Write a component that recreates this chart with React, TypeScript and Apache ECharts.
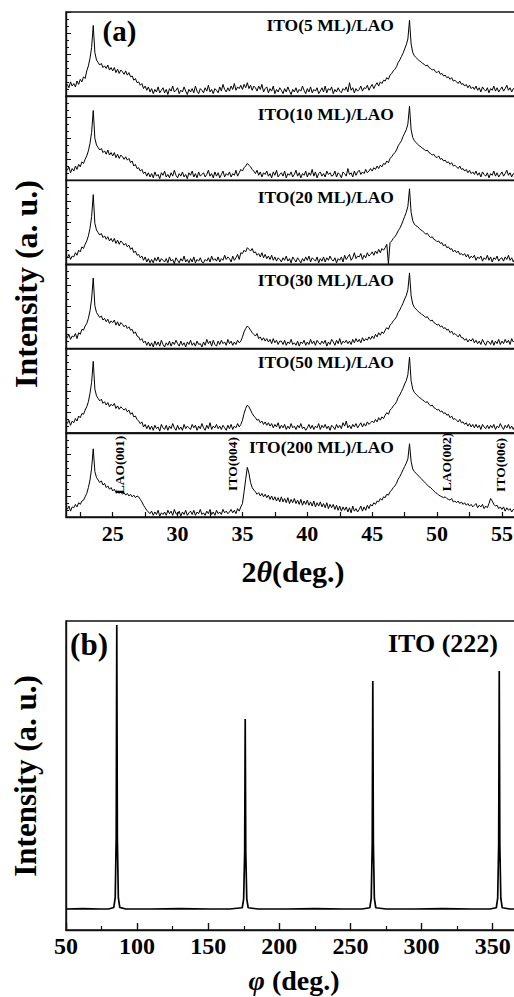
import React, { useEffect, useRef } from 'react';
import * as echarts from 'echarts';

// ---------- Panel (a): 2θ scans (values in % of each strip height) ----------
const TWO_THETA = [
  21.5, 21.625, 21.75, 21.875,
  22, 22.125, 22.25, 22.375, 22.5, 22.625, 22.75, 22.875,
  23, 23.125, 23.25, 23.375, 23.5, 23.625, 23.75, 23.875,
  24, 24.125, 24.25, 24.375, 24.5, 24.625, 24.75, 24.875,
  25, 25.125, 25.25, 25.375, 25.5, 25.625, 25.75, 25.875,
  26, 26.125, 26.25, 26.375, 26.5, 26.625, 26.75, 26.875,
  27, 27.125, 27.25, 27.375, 27.5, 27.625, 27.75, 27.875,
  28, 28.125, 28.25, 28.375, 28.5, 28.625, 28.75, 28.875,
  29, 29.125, 29.25, 29.375, 29.5, 29.625, 29.75, 29.875,
  30, 30.125, 30.25, 30.375, 30.5, 30.625, 30.75, 30.875,
  31, 31.125, 31.25, 31.375, 31.5, 31.625, 31.75, 31.875,
  32, 32.125, 32.25, 32.375, 32.5, 32.625, 32.75, 32.875,
  33, 33.125, 33.25, 33.375, 33.5, 33.625, 33.75, 33.875,
  34, 34.125, 34.25, 34.375, 34.5, 34.625, 34.75, 34.875,
  35, 35.125, 35.25, 35.375, 35.5, 35.625, 35.75, 35.875,
  36, 36.125, 36.25, 36.375, 36.5, 36.625, 36.75, 36.875,
  37, 37.125, 37.25, 37.375, 37.5, 37.625, 37.75, 37.875,
  38, 38.125, 38.25, 38.375, 38.5, 38.625, 38.75, 38.875,
  39, 39.125, 39.25, 39.375, 39.5, 39.625, 39.75, 39.875,
  40, 40.125, 40.25, 40.375, 40.5, 40.625, 40.75, 40.875,
  41, 41.125, 41.25, 41.375, 41.5, 41.625, 41.75, 41.875,
  42, 42.125, 42.25, 42.375, 42.5, 42.625, 42.75, 42.875,
  43, 43.125, 43.25, 43.375, 43.5, 43.625, 43.75, 43.875,
  44, 44.125, 44.25, 44.375, 44.5, 44.625, 44.75, 44.875,
  45, 45.125, 45.25, 45.375, 45.5, 45.625, 45.75, 45.875,
  46, 46.125, 46.25, 46.375, 46.5, 46.625, 46.75, 46.875,
  47, 47.125, 47.25, 47.375, 47.5, 47.625, 47.75, 47.875,
  48, 48.125, 48.25, 48.375, 48.5, 48.625, 48.75, 48.875,
  49, 49.125, 49.25, 49.375, 49.5, 49.625, 49.75, 49.875,
  50, 50.125, 50.25, 50.375, 50.5, 50.625, 50.75, 50.875,
  51, 51.125, 51.25, 51.375, 51.5, 51.625, 51.75, 51.875,
  52, 52.125, 52.25, 52.375, 52.5, 52.625, 52.75, 52.875,
  53, 53.125, 53.25, 53.375, 53.5, 53.625, 53.75, 53.875,
  54, 54.125, 54.25, 54.375, 54.5, 54.625, 54.75, 54.875,
  55, 55.125, 55.25, 55.375, 55.5, 55.625, 55.75, 55.875,
  56,
];

const ITO_5ML = [
  14, 10, 17, 12,
  15, 11, 18, 14, 20, 17, 23, 21,
  30, 36, 45, 58, 84, 52, 43, 40,
  37, 39, 34, 36, 33, 37, 31, 34,
  30, 34, 28, 32, 27, 31, 29, 26,
  30, 25, 28, 23, 24, 19, 21, 16,
  17, 13, 15, 9, 12, 7, 11, 5,
  9, 3, 8, 5, 11, 4, 7, 10,
  4, 8, 2, 9, 6, 12, 5, 7,
  10, 3, 7, 5, 11, 6, 2, 8,
  5, 9, 4, 12, 6, 3, 9, 7,
  4, 10, 6, 13, 5, 8, 3, 9,
  7, 4, 11, 6, 14, 8, 5, 10,
  6, 12, 8, 15, 7, 11, 9, 13,
  8, 14, 10, 16, 9, 13, 7, 12,
  10, 6, 12, 8, 14, 5, 9, 11,
  4, 9, 6, 12, 3, 8, 5, 10,
  7, 3, 9, 5, 11, 6, 2, 8,
  5, 10, 4, 8, 6, 12, 7, 3,
  9, 5, 11, 4, 8, 6, 10, 3,
  6, 10, 5, 12, 4, 9, 7, 11,
  3, 8, 5, 10, 6, 4, 9, 7,
  11, 5, 16, 7, 10, 4, 9, 6,
  8, 12, 6, 10, 9, 13, 7, 11,
  14, 9, 13, 16, 12, 17, 15, 19,
  18, 22, 20, 25, 27, 30, 32, 35,
  40, 43, 47, 51, 56, 61, 68, 90,
  62, 52, 48, 46, 44, 42, 41, 39,
  38, 36, 37, 34, 33, 31, 32, 29,
  28, 30, 26, 27, 24, 25, 22, 23,
  20, 22, 18, 19, 17, 15, 18, 14,
  15, 12, 14, 10, 13, 9, 11, 8,
  12, 7, 10, 5, 11, 8, 6, 10,
  4, 9, 7, 12, 6, 10, 5, 8,
  11, 6, 9, 13, 7, 10, 5, 9,
  8,
];

const ITO_10ML = [
  12, 16, 9, 14,
  11, 17, 13, 19, 16, 22, 20, 25,
  29, 35, 44, 57, 83, 50, 42, 39,
  36, 38, 33, 35, 31, 36, 30, 33,
  29, 33, 27, 31, 26, 30, 28, 25,
  28, 24, 26, 21, 23, 17, 19, 14,
  15, 11, 13, 8, 10, 5, 9, 4,
  8, 3, 10, 5, 7, 2, 9, 6,
  11, 4, 7, 3, 9, 5, 12, 6,
  3, 8, 5, 10, 4, 7, 2, 9,
  6, 11, 4, 8, 3, 10, 5, 7,
  9, 4, 7, 12, 5, 8, 3, 10,
  5, 9, 3, 7, 11, 4, 8, 6,
  10, 4, 8, 6, 12, 5, 9, 13,
  11, 15, 17, 20, 18, 16, 13, 11,
  8, 12, 6, 10, 4, 9, 7, 11,
  5, 8, 3, 10, 6, 12, 4, 7,
  9, 5, 11, 3, 8, 6, 10, 4,
  7, 12, 5, 9, 3, 8, 6, 11,
  4, 9, 6, 13, 5, 10, 3, 8,
  10, 5, 8, 4, 11, 7, 9, 5,
  6, 11, 4, 9, 7, 3, 10, 8,
  5, 14, 7, 9, 4, 11, 6, 10,
  12, 7, 10, 8, 13, 9, 11, 14,
  11, 15, 13, 17, 14, 18, 16, 20,
  19, 23, 21, 26, 28, 31, 33, 36,
  41, 44, 47, 52, 56, 60, 67, 88,
  60, 51, 47, 45, 43, 41, 40, 38,
  37, 35, 36, 33, 32, 30, 31, 28,
  27, 29, 25, 26, 23, 24, 21, 22,
  19, 21, 17, 18, 16, 14, 17, 13,
  14, 11, 13, 9, 12, 8, 10, 7,
  11, 6, 9, 4, 10, 7, 5, 9,
  3, 8, 6, 11, 5, 9, 4, 7,
  10, 5, 8, 12, 6, 9, 4, 8,
  7,
];

const ITO_20ML = [
  8, 12, 6, 10,
  9, 14, 11, 17, 15, 21, 19, 24,
  28, 34, 43, 57, 83, 49, 41, 38,
  35, 37, 32, 34, 30, 33, 28, 31,
  27, 31, 25, 29, 24, 28, 26, 23,
  25, 21, 23, 18, 20, 14, 16, 11,
  12, 8, 10, 5, 9, 3, 7, 2,
  6, 2, 8, 4, 9, 3, 7, 5,
  3, 7, 2, 9, 4, 6, 1, 8,
  5, 2, 7, 4, 10, 3, 6, 2,
  7, 3, 9, 2, 6, 4, 8, 3,
  2, 6, 4, 8, 3, 10, 5, 7,
  4, 9, 3, 7, 5, 11, 6, 9,
  7, 3, 10, 5, 8, 12, 6, 14,
  13, 17, 15, 20, 18, 16, 19, 14,
  15, 11, 13, 9, 14, 8, 12, 7,
  10, 6, 11, 5, 9, 4, 8, 6,
  3, 8, 5, 10, 4, 7, 2, 9,
  6, 3, 8, 5, 2, 7, 4, 9,
  5, 10, 3, 8, 6, 4, 9, 2,
  7, 4, 9, 3, 8, 5, 10, 6,
  4, 8, 2, 7, 5, 9, 3, 11,
  6, 9, 12, 5, 8, 14, 7, 10,
  9, 13, 6, 11, 8, 14, 10, 12,
  15, 11, 16, 13, 18, 14, 19, 17,
  20, 24, 1, 26, 28, 31, 33, 36,
  40, 43, 47, 52, 57, 62, 69, 90,
  62, 52, 48, 46, 45, 43, 41, 40,
  38, 36, 37, 34, 32, 33, 30, 29,
  27, 28, 25, 26, 22, 24, 20, 21,
  18, 19, 15, 17, 14, 16, 12, 13,
  11, 13, 9, 12, 7, 10, 8, 11,
  5, 9, 7, 10, 4, 8, 6, 11,
  5, 9, 3, 8, 6, 10, 4, 7,
  8, 4, 9, 6, 11, 5, 8, 3,
  7,
];

const ITO_30ML = [
  13, 17, 11, 15,
  14, 18, 12, 19, 17, 23, 22, 27,
  30, 36, 45, 59, 84, 51, 43, 40,
  37, 39, 34, 36, 32, 35, 30, 33,
  31, 34, 28, 32, 27, 31, 29, 26,
  28, 24, 26, 22, 23, 18, 20, 15,
  14, 10, 12, 7, 9, 4, 8, 3,
  7, 2, 9, 4, 8, 3, 10, 5,
  2, 7, 4, 9, 3, 8, 5, 10,
  6, 3, 9, 4, 7, 2, 8, 5,
  10, 4, 7, 3, 9, 5, 6, 2,
  8, 4, 11, 6, 9, 3, 10, 5,
  3, 9, 5, 10, 6, 8, 4, 11,
  6, 9, 4, 8, 5, 10, 7, 9,
  14, 20, 24, 27, 25, 22, 19, 17,
  15, 18, 12, 14, 10, 13, 9, 12,
  8, 11, 6, 12, 7, 10, 5, 9,
  9, 5, 10, 4, 8, 6, 11, 5,
  7, 4, 9, 3, 8, 6, 10, 4,
  8, 5, 11, 6, 9, 4, 10, 7,
  5, 9, 6, 10, 3, 8, 5, 11,
  8, 4, 10, 6, 12, 5, 9, 7,
  10, 6, 9, 5, 11, 7, 12, 8,
  11, 7, 13, 9, 12, 10, 14, 11,
  15, 12, 17, 14, 19, 16, 20, 18,
  22, 25, 23, 28, 30, 33, 35, 38,
  43, 46, 50, 54, 59, 63, 70, 90,
  63, 53, 49, 47, 45, 43, 42, 40,
  39, 37, 38, 35, 33, 34, 31, 30,
  28, 29, 26, 27, 24, 25, 22, 23,
  19, 21, 17, 18, 16, 14, 17, 13,
  13, 10, 12, 8, 11, 9, 12, 7,
  10, 6, 9, 5, 11, 7, 4, 9,
  8, 5, 10, 4, 9, 6, 11, 5,
  9, 6, 11, 7, 10, 5, 12, 8,
  10,
];

const ITO_50ML = [
  11, 15, 9, 14,
  12, 17, 14, 20, 18, 23, 22, 27,
  31, 37, 47, 60, 85, 52, 44, 41,
  38, 40, 35, 37, 33, 36, 31, 34,
  32, 35, 29, 32, 28, 31, 29, 27,
  29, 25, 27, 22, 24, 19, 20, 16,
  14, 11, 13, 7, 10, 5, 9, 4,
  8, 3, 9, 5, 7, 2, 10, 6,
  4, 9, 3, 8, 5, 11, 6, 3,
  9, 4, 7, 3, 10, 5, 8, 6,
  4, 10, 6, 9, 3, 8, 5, 11,
  6, 3, 9, 5, 12, 4, 8, 6,
  10, 5, 8, 4, 9, 6, 3, 9,
  5, 10, 4, 8, 6, 11, 7, 10,
  15, 23, 29, 33, 31, 27, 23, 20,
  18, 15, 16, 12, 14, 10, 13, 9,
  12, 8, 11, 6, 10, 7, 12, 5,
  9, 6, 10, 4, 8, 5, 11, 6,
  8, 4, 9, 6, 11, 5, 7, 3,
  6, 10, 5, 9, 4, 8, 6, 11,
  4, 9, 6, 10, 5, 8, 3, 9,
  7, 4, 10, 6, 9, 5, 12, 8,
  14, 6, 9, 5, 10, 7, 11, 6,
  9, 12, 7, 11, 8, 13, 10, 12,
  14, 12, 16, 13, 18, 15, 19, 17,
  21, 24, 22, 27, 29, 32, 34, 37,
  42, 45, 49, 53, 58, 62, 69, 90,
  62, 52, 48, 46, 44, 42, 41, 39,
  38, 36, 37, 34, 32, 33, 30, 29,
  27, 28, 25, 26, 23, 24, 21, 22,
  18, 20, 16, 17, 15, 13, 16, 12,
  13, 10, 12, 8, 11, 7, 10, 6,
  10, 6, 9, 4, 10, 7, 5, 9,
  5, 9, 6, 10, 4, 8, 6, 11,
  7, 4, 9, 6, 10, 5, 8, 4,
  8,
];

const ITO_200ML = [
  9, 13, 7, 12,
  11, 15, 12, 17, 15, 19, 20, 24,
  28, 35, 44, 58, 81, 54, 47, 44,
  41, 43, 38, 40, 35, 37, 33, 35,
  31, 33, 29, 31, 28, 30, 27, 29,
  26, 28, 25, 27, 24, 26, 23, 25,
  24, 21, 18, 14, 11, 8, 6, 4,
  7, 2, 6, 3, 8, 1, 5, 3,
  6, 2, 8, 4, 7, 2, 9, 4,
  3, 7, 1, 6, 3, 8, 2, 5,
  7, 3, 8, 2, 6, 4, 9, 3,
  5, 2, 7, 4, 9, 3, 6, 2,
  8, 4, 6, 3, 9, 5, 7, 4,
  6, 9, 5, 8, 4, 10, 7, 12,
  16, 30, 45, 59, 52, 41, 35, 32,
  30, 27, 29, 25, 28, 24, 27, 23,
  26, 21, 25, 20, 24, 19, 23, 18,
  24, 18, 22, 17, 23, 16, 21, 17,
  22, 16, 20, 15, 21, 14, 19, 15,
  20, 14, 18, 13, 19, 12, 17, 13,
  18, 12, 16, 11, 17, 10, 15, 11,
  15, 9, 14, 8, 13, 7, 12, 8,
  12, 6, 11, 5, 13, 7, 10, 6,
  9, 13, 7, 12, 8, 14, 10, 15,
  13, 17, 15, 19, 18, 22, 20, 24,
  23, 27, 26, 30, 32, 35, 37, 40,
  45, 48, 52, 56, 60, 64, 69, 87,
  66, 57, 54, 52, 50, 48, 46, 44,
  42, 40, 38, 36, 35, 33, 31, 29,
  28, 26, 25, 24, 23, 24, 22, 21,
  20, 22, 18, 19, 17, 19, 16, 18,
  15, 17, 14, 16, 13, 15, 12, 14,
  16, 11, 14, 12, 15, 10, 13, 11,
  16, 22, 19, 15, 13, 14, 10, 12,
  9, 12, 7, 11, 8, 10, 6, 9,
  8,
];

const PANEL_SERIES = [ITO_5ML, ITO_10ML, ITO_20ML, ITO_30ML, ITO_50ML, ITO_200ML];
const PANEL_LABELS = [
  'ITO(5 ML)/LAO',
  'ITO(10 ML)/LAO',
  'ITO(20 ML)/LAO',
  'ITO(30 ML)/LAO',
  'ITO(50 ML)/LAO',
  'ITO(200 ML)/LAO',
];
const A_TICKS = [22.5, 25, 27.5, 30, 32.5, 35, 37.5, 40, 42.5, 45, 47.5, 50, 52.5, 55];
const A_LABELS = [25, 30, 35, 40, 45, 50, 55];
const PEAK_NAMES = ['LAO(001)', 'ITO(004)', 'LAO(002)', 'ITO(006)'];

// ---------- Panel (b): φ scan ----------
const PHI = [
  50, 62, 74, 80,
  83.6, 84.6, 85.3, 85.7, 86.1, 86.8, 87.8,
  92, 110, 130, 150, 165,
  173.9, 174.9, 175.6, 176, 176.4, 177.1, 178.1,
  185, 205, 225, 245, 258,
  263.6, 264.6, 265.3, 265.7, 266.1, 266.8, 267.8,
  275, 295, 315, 335, 348,
  352.5, 353.5, 354.2, 354.6, 355, 355.7, 356.7,
  362, 372,
];
const PHI_INTENSITY = [
  6.8, 6.9, 6.8, 6.8,
  7.3, 10.5, 30, 98.7, 30, 10.5, 7.3,
  6.8, 6.8, 6.9, 6.8, 6.8,
  7.2, 10, 25, 68.3, 25, 10, 7.2,
  6.8, 6.8, 6.9, 6.8, 6.8,
  7.2, 10.2, 28, 80.6, 28, 10.2, 7.2,
  6.8, 6.8, 6.9, 6.8, 6.8,
  7.2, 10.3, 28, 83.8, 28, 10.3, 7.2,
  6.8, 6.8,
];
const B_LABELS = [50, 100, 150, 200, 250, 300, 350];
const B_MINOR = [75, 125, 175, 225, 275, 325];

const FONT = '"Liberation Serif", "Times New Roman", Times, serif';
const BLACK = '#000';
const FRAME = '#111';

function zip(xs: number[], ys: number[]) {
  const n = Math.min(xs.length, ys.length);
  const out: number[][] = [];
  for (let i = 0; i < n; i++) out.push([xs[i], ys[i]]);
  return out;
}

function txt(text: string, x: number, y: number, size: number, align = 'center', rotation = 0) {
  return {
    type: 'text',
    x,
    y,
    rotation,
    silent: true,
    style: {
      text,
      fill: BLACK,
      font: `bold ${size}px ${FONT}`,
      textAlign: align,
      align,
      textVerticalAlign: 'middle',
      verticalAlign: 'middle',
    },
  };
}

function richTxt(text: string, x: number, y: number, size: number) {
  return {
    type: 'text',
    x,
    y,
    silent: true,
    style: {
      text,
      fill: BLACK,
      font: `bold ${size}px ${FONT}`,
      textAlign: 'center',
      align: 'center',
      textVerticalAlign: 'middle',
      verticalAlign: 'middle',
      rich: {
        n: { font: `bold ${size}px ${FONT}`, fill: BLACK },
        i: { font: `italic bold ${size}px ${FONT}`, fill: BLACK },
      },
    },
  };
}

export default function App() {
  const ref = useRef<HTMLDivElement>(null);

  useEffect(() => {
    if (!ref.current) return;
    const chart = echarts.init(ref.current, null, { renderer: 'svg' });

    const LEFT = 66;
    const WIDTH = 458;
    const TOP_A = 12;
    const H_A = 84.17;
    const A_MIN = 21.4;
    const A_MAX = 56.7;

    const grids: any[] = [];
    const xAxes: any[] = [];
    const yAxes: any[] = [];
    const series: any[] = [];

    PANEL_SERIES.forEach((ys, i) => {
      const last = i === PANEL_SERIES.length - 1;
      grids.push({
        left: LEFT,
        width: WIDTH,
        top: TOP_A + i * H_A,
        height: H_A,
        containLabel: false,
        outerBoundsMode: 'none',
        show: true,
        borderColor: FRAME,
        borderWidth: 1.4,
        backgroundColor: 'transparent',
      });
      xAxes.push({
        type: 'value',
        gridIndex: i,
        min: A_MIN,
        max: A_MAX,
        axisLine: { show: true, onZero: false, lineStyle: { color: FRAME, width: 1.4 } },
        axisTick: last
          ? { show: true, inside: true, length: 5, customValues: A_TICKS, lineStyle: { color: FRAME, width: 1.2 } }
          : { show: false },
        axisLabel: last
          ? {
              show: true,
              customValues: A_LABELS,
              margin: 5,
              color: BLACK,
              fontFamily: FONT,
              fontWeight: 'bold',
              fontSize: 22,
            }
          : { show: false },
        splitLine: { show: false },
      });
      yAxes.push({
        type: 'value',
        gridIndex: i,
        min: 0,
        max: 100,
        interval: 25,
        axisLine: { show: true, onZero: false, lineStyle: { color: FRAME, width: 1.4 } },
        axisTick: { show: true, inside: true, length: 5, lineStyle: { color: FRAME, width: 1 } },
        minorTick: { show: true, splitNumber: 3, length: 3, lineStyle: { color: FRAME, width: 1 } },
        axisLabel: { show: false },
        splitLine: { show: false },
        minorSplitLine: { show: false },
      });
      series.push({
        type: 'line',
        xAxisIndex: i,
        yAxisIndex: i,
        data: zip(TWO_THETA, ys),
        showSymbol: false,
        symbol: 'none',
        silent: true,
        clip: true,
        lineStyle: { color: BLACK, width: 1 },
      });
    });

    // panel (b)
    const B_TOP = 621;
    const B_H = 309;
    const bGrid = grids.length;
    grids.push({
      left: LEFT,
      width: WIDTH,
      top: B_TOP,
      height: B_H,
      containLabel: false,
      outerBoundsMode: 'none',
      show: true,
      borderColor: FRAME,
      borderWidth: 1.4,
      backgroundColor: 'transparent',
    });
    const bX = xAxes.length;
    xAxes.push({
      type: 'value',
      gridIndex: bGrid,
      min: 50,
      max: 372,
      axisLine: { show: true, onZero: false, lineStyle: { color: FRAME, width: 1.4 } },
      axisTick: { show: true, inside: true, length: 7, customValues: B_LABELS, lineStyle: { color: FRAME, width: 1.4 } },
      axisLabel: {
        show: true,
        customValues: B_LABELS,
        margin: 4,
        color: BLACK,
        fontFamily: FONT,
        fontWeight: 'bold',
        fontSize: 24,
      },
      splitLine: { show: false },
    });
    xAxes.push({
      type: 'value',
      gridIndex: bGrid,
      position: 'bottom',
      offset: 0,
      min: 50,
      max: 372,
      axisLine: { show: false },
      axisTick: { show: true, inside: true, length: 4, customValues: B_MINOR, lineStyle: { color: FRAME, width: 1.2 } },
      axisLabel: { show: false },
      splitLine: { show: false },
    });
    const bY = yAxes.length;
    yAxes.push({
      type: 'value',
      gridIndex: bGrid,
      min: 0,
      max: 100,
      axisLine: { show: true, onZero: false, lineStyle: { color: FRAME, width: 1.4 } },
      axisTick: { show: false },
      axisLabel: { show: false },
      splitLine: { show: false },
    });
    series.push({
      type: 'line',
      xAxisIndex: bX,
      yAxisIndex: bY,
      data: zip(PHI, PHI_INTENSITY),
      showSymbol: false,
      symbol: 'none',
      silent: true,
      clip: true,
      lineStyle: { color: BLACK, width: 1.7 },
    });

    const labelY = [25, 113.5, 197, 280, 362, 447];
    const graphics: any[] = [];
    PANEL_LABELS.forEach((t, i) => graphics.push(txt(t, 394, labelY[i], 17.5, 'right')));
    graphics.push(txt('(a)', 119.5, 30.5, 29));
    graphics.push(txt('Intensity (a. u.)', 26, 284, 32, 'center', Math.PI / 2));
    const peakPos = [
      [119, 465],
      [232, 464],
      [446, 462],
      [500, 465],
    ];
    PEAK_NAMES.forEach((t, i) => graphics.push(txt(t, peakPos[i][0], peakPos[i][1], 13.5, 'center', Math.PI / 2)));
    graphics.push(richTxt('{n|2}{i|θ}{n|(deg.)}', 293, 571, 30));
    graphics.push(txt('(b)', 89, 644, 31));
    graphics.push(txt('ITO (222)', 498, 643, 26, 'right'));
    graphics.push(txt('Intensity (a. u.)', 25, 776, 31, 'center', Math.PI / 2));
    graphics.push(richTxt('{i|φ} {n|(deg.)}', 294, 980, 28));

    chart.setOption({
      animation: false,
      backgroundColor: '#fff',
      grid: grids,
      xAxis: xAxes,
      yAxis: yAxes,
      series,
      graphic: graphics,
    });

    return () => chart.dispose();
  }, []);

  return (
    <div
      ref={ref}
      style={{ position: 'absolute', left: 0, top: 0, width: 514, height: 997, background: '#fff' }}
    />
  );
}
